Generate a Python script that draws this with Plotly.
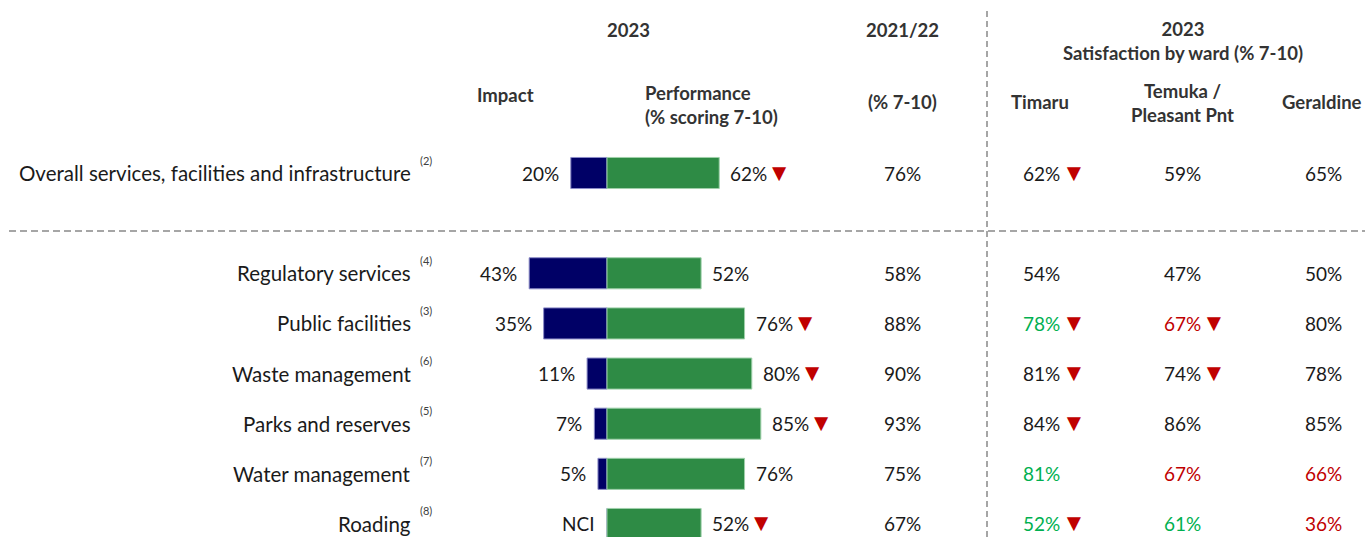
import plotly.graph_objects as go

# ==================== data ====================
categories = ["Overall services, facilities and infrastructure", "Regulatory services",
              "Public facilities", "Waste management", "Parks and reserves",
              "Water management", "Roading"]
footnotes = ["(2)", "(4)", "(3)", "(6)", "(5)", "(7)", "(8)"]

impact = [20, 43, 35, 11, 7, 5, None]          # None = NCI
performance = [62, 52, 76, 80, 85, 76, 52]
perf_down = [True, False, True, True, True, False, True]
prev_year = [76, 58, 88, 90, 93, 75, 67]

timaru = [62, 54, 78, 81, 84, 81, 52]
temuka = [59, 47, 67, 74, 86, 67, 61]
geraldine = [65, 50, 80, 78, 85, 66, 36]
# colour codes: k = normal, g = significantly higher, r = significantly lower
timaru_col = ["k", "k", "g", "k", "k", "g", "g"]
temuka_col = ["k", "k", "r", "k", "k", "r", "g"]
geraldine_col = ["k", "k", "k", "k", "k", "r", "r"]
timaru_down = [True, False, True, True, True, False, True]
temuka_down = [False, False, True, True, False, False, False]

# ==================== style ====================
W, H = 1365, 537
FONT = "Lato, 'Open Sans', sans-serif"
NAVY = "#000066"
GREEN = "#2E8B45"
RED = "#C00000"
TXT_COL = {"k": "#1a1a1a", "g": "#00B050", "r": "#C00000"}
HEAD = "#333333"
ARROW = "▼"
ARROW_SPAN = f"<span style='color:{RED};font-size:24px'>{ARROW}</span>"

# row positions: overall row on its own, gap, then the six services
ypos = [0] + list(range(2, 2 + len(categories) - 1))

# px mapping for the bar axis: zero at 607px, 1.81 px per %
zero_px, px_per = 607, 1.81
x_range = [-zero_px / px_per, (W - zero_px) / px_per]
row0_px, row_px = 173, 50.14
y_range = [(H - row0_px) / row_px, -row0_px / row_px]


def px(x):
    return x / W


fig = go.Figure()

fig.add_trace(go.Bar(
    y=ypos, x=[-v if v is not None else 0 for v in impact], base=0,
    orientation="h", width=0.62,
    marker=dict(color=NAVY, line=dict(color="#8c8cc8", width=1)),
    hoverinfo="skip", showlegend=False,
))
fig.add_trace(go.Bar(
    y=ypos, x=performance, base=0,
    orientation="h", width=0.62,
    marker=dict(color=GREEN, line=dict(color="#9fd0aa", width=1)),
    hoverinfo="skip", showlegend=False,
))

ann = []
val_font = dict(family=FONT, size=19, color="#1a1a1a")

for i, y in enumerate(ypos):
    # row label + footnote marker
    ann.append(dict(x=px(413), y=y, xref="paper", yref="y", text=categories[i],
                    xanchor="right", yanchor="middle", showarrow=False,
                    font=dict(family=FONT, size=20.5, color="#1a1a1a")))
    ann.append(dict(x=px(418), y=y, xref="paper", yref="y", text=footnotes[i],
                    xanchor="left", yanchor="middle", yshift=13, showarrow=False,
                    font=dict(family=FONT, size=11, color="#404040")))
    # impact label
    v = impact[i]
    ann.append(dict(x=-v if v is not None else 0, y=y, xref="x", yref="y",
                    text=f"{v}%" if v is not None else "NCI",
                    xanchor="right", yanchor="middle", xshift=-10, showarrow=False,
                    font=val_font))
    # performance label (the larger arrow glyph pushes the line down a bit)
    t = f"{performance[i]}%"
    if perf_down[i]:
        t += ARROW_SPAN
    ann.append(dict(x=performance[i], y=y, xref="x", yref="y", text=t,
                    xanchor="left", yanchor="middle", xshift=9,
                    yshift=2 if perf_down[i] else 0, showarrow=False,
                    font=val_font))
    # previous year
    ann.append(dict(x=px(902), y=y, xref="paper", yref="y", text=f"{prev_year[i]}%",
                    xanchor="center", yanchor="middle", showarrow=False, font=val_font))
    # wards
    for xl, vals, cols in [(1021, timaru, timaru_col), (1162, temuka, temuka_col),
                           (1303, geraldine, geraldine_col)]:
        ann.append(dict(x=px(xl), y=y, xref="paper", yref="y", text=f"{vals[i]}%",
                        xanchor="left", yanchor="middle", showarrow=False,
                        font=dict(family=FONT, size=19, color=TXT_COL[cols[i]])))
    for xa, downs in [(1074, timaru_down), (1214, temuka_down)]:
        if downs[i]:
            ann.append(dict(x=px(xa), y=y, xref="paper", yref="y", text=ARROW,
                            xanchor="center", yanchor="middle", yshift=2, showarrow=False,
                            font=dict(family=FONT, size=24, color=RED)))

# headers
hfont = dict(family=FONT, size=18.5, color=HEAD)
headers = [
    (628, 30, "<b>2023</b>", "center"),
    (902, 30, "<b>2021/22</b>", "center"),
    (505, 95, "<b>Impact</b>", "center"),
    (902, 102, "<b>(% 7-10)</b>", "center"),
    (1183, 41, "<b>2023</b><br><b>Satisfaction by ward (% 7-10)</b>", "center"),
    (1040, 102, "<b>Timaru</b>", "center"),
    (1182, 103, "<b>Temuka /</b><br><b>Pleasant Pnt</b>", "center"),
    (1322, 102, "<b>Geraldine</b>", "center"),
]
for x, y, t, a in headers:
    ann.append(dict(x=px(x), y=1 - y / H, xref="paper", yref="paper", text=t,
                    xanchor=a, yanchor="middle", align="center", showarrow=False, font=hfont))
ann.append(dict(x=px(643), y=1 - 105 / H, xref="paper", yref="paper",
                text="<b>Performance</b><br><b>(% scoring 7-10)</b>",
                xanchor="left", yanchor="middle", align="left", showarrow=False, font=hfont))

shapes = [
    dict(type="line", xref="paper", yref="paper", x0=px(9), x1=1, y0=1 - 231 / H, y1=1 - 231 / H,
         line=dict(color="#A6A6A6", width=2, dash="7px,4px")),
    dict(type="line", xref="paper", yref="paper", x0=px(987), x1=px(987), y0=0, y1=1 - 8 / H,
         line=dict(color="#A6A6A6", width=2, dash="6px,4px")),
]

fig.update_layout(
    width=W, height=H,
    margin=dict(l=0, r=0, t=0, b=0),
    paper_bgcolor="white", plot_bgcolor="white",
    barmode="overlay",
    xaxis=dict(range=x_range, visible=False, fixedrange=True),
    yaxis=dict(range=y_range, visible=False, fixedrange=True),
    annotations=ann, shapes=shapes,
    font=dict(family=FONT),
)

# page body margin would push the figure 8px right/down
fig.write_html("out.html", config={"displayModeBar": False},
               post_script="document.body.style.margin='0';")
